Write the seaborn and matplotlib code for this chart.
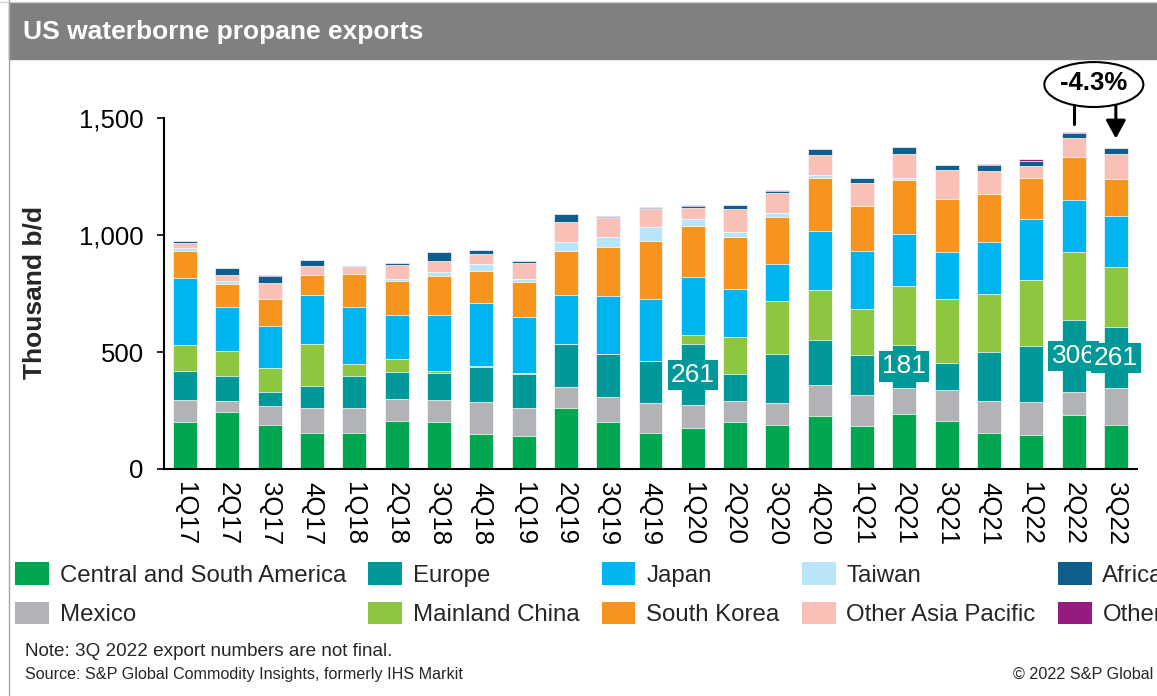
import numpy as np
import pandas as pd
import matplotlib
matplotlib.use("Agg")
import matplotlib.pyplot as plt
import seaborn as sns
from matplotlib.patches import Patch, Ellipse, Rectangle
from matplotlib.lines import Line2D

# ---------------- data (thousand b/d) ----------------
quarters = ["1Q17", "2Q17", "3Q17", "4Q17", "1Q18", "2Q18", "3Q18", "4Q18",
            "1Q19", "2Q19", "3Q19", "4Q19", "1Q20", "2Q20", "3Q20", "4Q20",
            "1Q21", "2Q21", "3Q21", "4Q21", "1Q22", "2Q22", "3Q22"]

central_south_america = [200, 245, 189, 152, 155, 206, 201, 150, 142, 259, 201, 155,
                         177, 201, 188, 226, 184, 235, 206, 155, 145, 232, 188]
mexico = [94, 47, 80, 107, 107, 94, 94, 136, 120, 91, 108, 126,
          95, 90, 93, 133, 132, 113, 132, 136, 140, 97, 157]
europe = [125, 107, 61, 97, 137, 116, 114, 151, 144, 186, 182, 182,
          261, 115, 212, 194, 173, 181, 115, 208, 242, 306, 261]
mainland_china = [111, 105, 103, 178, 51, 53, 8, 2, 4, 0, 0, 0,
                  40, 160, 224, 211, 196, 253, 273, 250, 282, 291, 256]
japan = [285, 187, 177, 211, 244, 189, 241, 271, 238, 209, 247, 263,
         248, 203, 160, 252, 248, 222, 203, 222, 258, 225, 220]
south_korea = [118, 101, 118, 85, 141, 147, 167, 135, 153, 187, 211, 248,
               216, 224, 200, 229, 192, 232, 223, 204, 178, 181, 156]
taiwan = [10, 13, 0, 0, 0, 6, 17, 32, 11, 38, 41, 59,
          33, 18, 17, 11, 0, 8, 0, 0, 0, 0, 0]
other_asia_pacific = [24, 23, 65, 37, 30, 61, 47, 41, 67, 87, 84, 77,
                      46, 100, 84, 86, 96, 102, 127, 100, 51, 83, 107]
africa = [8, 30, 33, 26, 4, 10, 38, 17, 10, 33, 4, 4,
          8, 16, 10, 26, 24, 29, 19, 23, 22, 22, 27]
other = [0, 2, 3, 0, 0, 0, 0, 0, 0, 0, 3, 6,
         6, 0, 4, 0, 0, 0, 0, 5, 7, 4, 0]

series_names = ["Central and South America", "Mexico", "Europe", "Mainland China",
                "Japan", "South Korea", "Taiwan", "Other Asia Pacific", "Africa", "Other"]
series_values = [central_south_america, mexico, europe, mainland_china, japan,
                 south_korea, taiwan, other_asia_pacific, africa, other]
series_colors = ["#00A650", "#B1B3B6", "#009898", "#8DC63F", "#00B5EF",
                 "#F7941D", "#B9E5FB", "#F9C0B8", "#0E5E8E", "#951B81"]

label_quarters = ["1Q20", "2Q21", "2Q22", "3Q22"]   # Europe values labelled
change_text = "-4.3%"

y_ticks = [0, 500, 1000, 1500]
y_tick_labels = ["0", "500", "1,000", "1,500"]

# ---------------- style ----------------
sns.set_theme(style="white")
plt.rcParams["font.family"] = ["Liberation Sans", "DejaVu Sans"]

W, H = 1157, 696
fig = plt.figure(figsize=(W / 100, H / 100), dpi=100)
fig.patch.set_facecolor("white")

ax = fig.add_axes([164 / W, 1 - 469 / H, (1137 - 164) / W, (469 - 118) / H])

df = pd.DataFrame({name: vals for name, vals in zip(series_names, series_values)})
df.insert(0, "quarter", quarters)
cum = df[series_names].cumsum(axis=1)

# draw cumulative layers top-down so each lower segment sits in front
for name, color in reversed(list(zip(series_names, series_colors))):
    sns.barplot(x=df["quarter"], y=cum[name], color=color, saturation=1,
                width=0.567, errorbar=None, edgecolor="white", linewidth=0.5,
                ax=ax)

ax.set_xlim(-0.5, len(quarters) - 0.5)
ax.set_ylim(0, 1500)
ax.set_yticks(y_ticks)
ax.set_yticklabels(y_tick_labels)
ax.set_xlabel("")
ax.set_ylabel("")
for s in ["top", "right"]:
    ax.spines[s].set_visible(False)
for s in ["left", "bottom"]:
    ax.spines[s].set_color("black")
    ax.spines[s].set_linewidth(1.5)
ax.tick_params(axis="y", which="both", left=True, direction="out", length=5,
               width=1.2, color="black", labelsize=18.5, pad=9.5, labelcolor="black")
ax.tick_params(axis="x", length=0, labelsize=18.5, pad=9, labelcolor="black")
for lbl in ax.get_xticklabels():
    lbl.set_rotation(-90)

# Europe data labels
for q in label_quarters:
    i = quarters.index(q)
    mid = cum["Mexico"][i] + europe[i] / 2
    ax.text(i, mid, f"{europe[i]}", ha="center", va="center", color="white",
            fontsize=19, zorder=10,
            bbox=dict(boxstyle="square,pad=0.12", fc="#009898", ec="none"))

# -4.3% annotation
i2, i3 = quarters.index("2Q22"), quarters.index("3Q22")
cx, cy = (i2 + i3) / 2 - 0.02, 1643
ell = Ellipse((cx, cy), width=2.34, height=192, transform=ax.transData,
              fill=False, ec="black", lw=1.5, clip_on=False, zorder=12)
ax.add_patch(ell)
ax.text(cx, cy + 5, change_text, ha="center", va="center", fontsize=18.5,
        fontweight="bold", color="black", zorder=13, clip_on=False)
ax.plot([i2, i2], [1474, 1554], color="black", lw=2.2, clip_on=False, zorder=12)
ax.annotate("", xy=(i3, 1412), xytext=(i3, 1554),
            arrowprops=dict(arrowstyle="-|>,head_length=0.55,head_width=0.3",
                            color="black", lw=2.2, mutation_scale=20,
                            shrinkA=0, shrinkB=0),
            annotation_clip=False, zorder=12)

# ---------------- frame / title bar ----------------
fig.patches.append(Rectangle((9 / W, 1 - 59 / H), 1, 56 / H, transform=fig.transFigure,
                             color="#808080", zorder=0))
fig.lines.append(Line2D([0, 1], [1 - 1.5 / H, 1 - 1.5 / H], transform=fig.transFigure,
                        color="#cfcfcf", lw=1))
fig.lines.append(Line2D([8.5 / W, 8.5 / W], [0, 1], transform=fig.transFigure,
                        color="#a6a6a6", lw=1))
fig.text(23 / W, 1 - 32 / H, "US waterborne propane exports", color="white",
         fontsize=19, fontweight="bold", ha="left", va="center")

fig.text(35 / W, 1 - 293 / H, "Thousand b/d", rotation=90, fontsize=19,
         fontweight="bold", ha="center", va="center")

# legend
handles = [Patch(facecolor=c, edgecolor="none") for c in series_colors]
fig.legend(handles, series_names, ncol=5, loc="upper left",
           bbox_to_anchor=(15 / W, 1 - 562 / H), frameon=False, fontsize=17.3,
           handlelength=1.41, handleheight=1.08, handletextpad=0.45,
           columnspacing=0.92, labelspacing=0.63, borderpad=0, borderaxespad=0)

fig.text(25 / W, 1 - 652 / H, "Note: 3Q 2022 export numbers are not final.",
         fontsize=13.6, ha="left", va="center")
fig.text(25 / W, 1 - 674 / H, "Source: S&P Global Commodity Insights, formerly IHS Markit",
         fontsize=11.6, ha="left", va="center")
fig.text(1153 / W, 1 - 674 / H, "© 2022 S&P Global", fontsize=11.6, ha="right", va="center")

fig.savefig("out.png", dpi=100)
